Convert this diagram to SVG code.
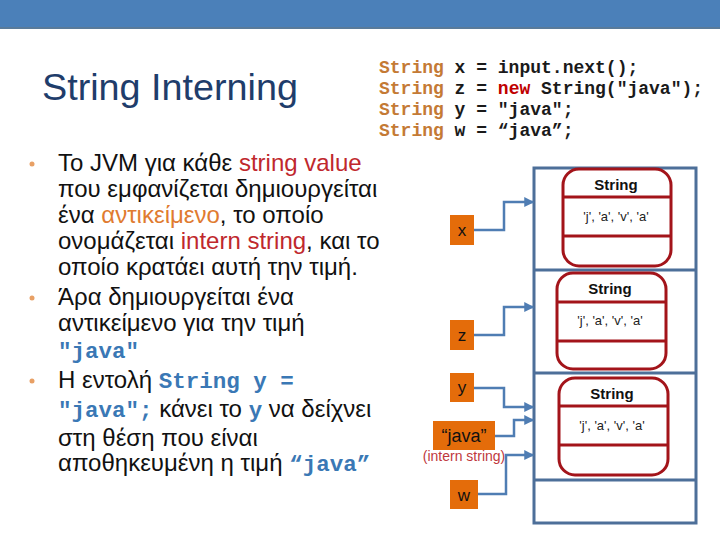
<svg xmlns="http://www.w3.org/2000/svg" width="720" height="540" viewBox="0 0 720 540">
<style>
.title{font-family:"Liberation Sans",Arial,sans-serif;font-size:37px;fill:#1f3d6b}
.code{font-family:"Liberation Mono","Courier New",monospace;font-size:18px;font-weight:bold;fill:#1a1a1a}
.kw{fill:#c47a35}
.nw{fill:#c00000}
.body{font-family:"Liberation Sans",Arial,sans-serif;font-size:24px;fill:#111}
.red{fill:#c0282d}
.org{fill:#e07b30}
.mono{font-family:"Liberation Mono","Courier New",monospace;font-weight:bold;fill:#3a78b5;font-size:22.5px}
.dot{fill:#e8a065}
.mem{fill:none;stroke:#4d6f99;stroke-width:3}
.obj{fill:none;stroke:#a3141a;stroke-width:3}
.var{fill:#e46c0a}
.vt{font-family:"Liberation Sans",Arial,sans-serif;font-size:17px;fill:#111;text-anchor:middle}
.ot{font-family:"Liberation Sans",Arial,sans-serif;font-size:15px;font-weight:bold;fill:#111;text-anchor:middle}
.ov{font-family:"Liberation Sans",Arial,sans-serif;font-size:13px;fill:#222;text-anchor:middle}
.conn{fill:none;stroke:#4f7db3;stroke-width:2.5}
</style>
<defs>
<marker id="ah" markerWidth="4" markerHeight="4" refX="3.5" refY="2" orient="auto" markerUnits="strokeWidth">
<path d="M0,0 L4,2 L0,4 z" fill="#4f7db3"/>
</marker>
</defs>
<rect x="0" y="0" width="720" height="28" fill="#4b80b9"/>
<rect x="0" y="27" width="720" height="2" fill="#5a7b9a"/>
<text class="title" x="42" y="100" textLength="256" lengthAdjust="spacingAndGlyphs">String Interning</text>
<g id="code">
<text class="code" x="379" y="73"><tspan class="kw">String</tspan> x = input.next();</text>
<text class="code" x="379" y="94"><tspan class="kw">String</tspan> z = <tspan class="nw">new</tspan> String("java");</text>
<text class="code" x="379" y="115"><tspan class="kw">String</tspan> y = "java";</text>
<text class="code" x="379" y="136"><tspan class="kw">String</tspan> w = “java”;</text>
</g>
<g id="bullets">
<circle class="dot" cx="32" cy="164" r="2.5"/>
<text class="body" x="58" y="171">Το JVM για κάθε <tspan class="red">string value</tspan></text>
<text class="body" x="58" y="197">που εμφανίζεται δημιουργείται</text>
<text class="body" x="58" y="223">ένα <tspan class="org">αντικείμενο</tspan>, το οποίο</text>
<text class="body" x="58" y="249">ονομάζεται <tspan class="red">intern string</tspan>, και το</text>
<text class="body" x="58" y="275">οποίο κρατάει αυτή την τιμή.</text>
<circle class="dot" cx="32" cy="298" r="2.5"/>
<text class="body" x="58" y="305">Άρα δημιουργείται ένα</text>
<text class="body" x="58" y="331">αντικείμενο για την τιμή</text>
<text class="mono" x="58" y="358">"java"</text>
<circle class="dot" cx="32" cy="381" r="2.5"/>
<text class="body" x="58" y="388">Η εντολή <tspan class="mono">String y =</tspan></text>
<text class="body" x="58" y="417"><tspan class="mono">"java";</tspan> κάνει το <tspan class="mono">y</tspan> να δείχνει</text>
<text class="body" x="58" y="446">στη θέση που είναι</text>
<text class="body" x="58" y="471">αποθηκευμένη η τιμή <tspan class="mono">“java”</tspan></text>
</g>
<g id="memory">
<rect class="mem" x="534" y="168" width="162" height="355"/>
<line class="mem" x1="534" y1="270" x2="696" y2="270"/>
<line class="mem" x1="534" y1="373" x2="696" y2="373"/>
<line class="mem" x1="534" y1="480" x2="696" y2="480"/>
</g>
<g id="obj1">
<rect class="obj" x="563" y="169" width="108" height="97" rx="16"/>
<line class="obj" x1="563" y1="197" x2="671" y2="197"/>
<line class="obj" x1="563" y1="236" x2="671" y2="236"/>
<text class="ot" x="616" y="190">String</text>
<text class="ov" x="616" y="221">'j', 'a', 'v', 'a'</text>
</g>
<g id="obj2">
<rect class="obj" x="557" y="273" width="109" height="96" rx="16"/>
<line class="obj" x1="557" y1="302" x2="666" y2="302"/>
<line class="obj" x1="557" y1="341" x2="666" y2="341"/>
<text class="ot" x="610" y="294">String</text>
<text class="ov" x="610" y="325">'j', 'a', 'v', 'a'</text>
</g>
<g id="obj3">
<rect class="obj" x="559" y="378" width="109" height="97" rx="16"/>
<line class="obj" x1="559" y1="406" x2="668" y2="406"/>
<line class="obj" x1="559" y1="445" x2="668" y2="445"/>
<text class="ot" x="612" y="399">String</text>
<text class="ov" x="612" y="430">'j', 'a', 'v', 'a'</text>
</g>
<g id="var-x">
<rect class="var" x="450" y="215" width="24" height="30"/>
<text class="vt" x="462" y="236">x</text>
</g>
<g id="var-z">
<rect class="var" x="450" y="320" width="24" height="30"/>
<text class="vt" x="462" y="341">z</text>
</g>
<g id="var-y">
<rect class="var" x="450" y="373" width="24" height="29"/>
<text class="vt" x="462" y="393">y</text>
</g>
<g id="var-java">
<rect class="var" x="433" y="421" width="62" height="29"/>
<text class="vt" x="464" y="442" style="font-size:18px">“java”</text>
<text x="464" y="461" style="font-family:'Liberation Sans',Arial,sans-serif;font-size:14px;fill:#c0383d;text-anchor:middle">(intern string)</text>
</g>
<g id="var-w">
<rect class="var" x="450" y="480" width="28" height="29"/>
<text class="vt" x="464" y="501">w</text>
</g>
<g id="connectors">
<path class="conn" d="M474,230 H504 V202 H533" marker-end="url(#ah)"/>
<path class="conn" d="M474,335 H504 V307 H533" marker-end="url(#ah)"/>
<path class="conn" d="M474,388 H504 V407 H533" marker-end="url(#ah)"/>
<path class="conn" d="M495,436 H514 V420 H533" marker-end="url(#ah)"/>
<path class="conn" d="M478,494 H506 V455 H533" marker-end="url(#ah)"/>
</g>
</svg>
